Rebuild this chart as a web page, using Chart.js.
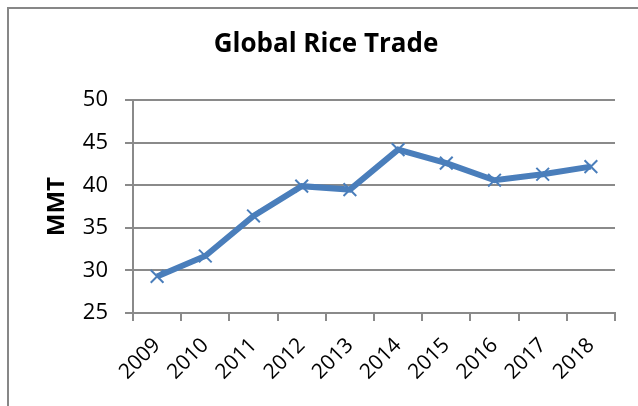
<!DOCTYPE html>
<html>
<head>
<meta charset="utf-8">
<script src="https://cdn.jsdelivr.net/npm/chart.js@4"></script>
<style>
    html, body { margin: 0; padding: 0; background: #fff; }
    #wrap { position: relative; width: 638px; height: 406px; overflow: hidden; }
    #frame {
        position: absolute; left: 7px; top: 7px; width: 700px; height: 500px;
        border-left: 2px solid #878787; border-top: 2px solid #878787;
    }
    canvas { position: absolute; left: 0; top: 0; }
</style>
</head>
<body>
<div id="wrap">
    <div id="frame"></div>
    <canvas id="grafico" width="638" height="406"></canvas>
</div>
<script>
// dados do grafico
const anos = ['2009', '2010', '2011', '2012', '2013', '2014', '2015', '2016', '2017', '2018'];
const comercio = [29.3, 31.7, 36.4, 39.9, 39.5, 44.2, 42.6, 40.6, 41.3, 42.2];
const ticksY = [25, 30, 35, 40, 45, 50];

const fonte = "'Open Sans', 'DejaVu Sans', sans-serif";
const cinza = '#8a8a8a';
const azul = '#4a7ebb';

const ctx = document.getElementById('grafico').getContext('2d');

new Chart(ctx, {
    type: 'line',
    data: {
        labels: anos,
        datasets: [{
            label: 'MMT',
            data: comercio,
            borderColor: azul,
            backgroundColor: azul,
            borderWidth: 6,
            tension: 0,
            pointStyle: 'crossRot',
            pointRadius: 9,
            pointBorderWidth: 2,
            pointBorderColor: azul
        }]
    },
    options: {
        responsive: false,
        animation: false,
        layout: { padding: { left: 37, right: 23, top: 0, bottom: 0 } },
        plugins: {
            legend: { display: false },
            tooltip: { enabled: false },
            title: {
                display: true,
                text: 'Global Rice Trade',
                color: '#000',
                font: { family: fonte, size: 26, weight: 'bold' },
                padding: { top: 29, bottom: 40 }
            }
        },
        scales: {
            x: {
                offset: true,
                grid: {
                    offset: true,
                    drawOnChartArea: false,
                    drawTicks: true,
                    tickLength: 8,
                    color: cinza,
                    lineWidth: 2
                },
                border: { display: true, color: cinza, width: 2 },
                ticks: {
                    color: '#000',
                    font: { family: fonte, size: 21 },
                    maxRotation: 45,
                    minRotation: 45,
                    padding: 12
                },
                afterFit(scale) { scale.height = 93; }
            },
            y: {
                min: 25,
                max: 50,
                afterBuildTicks(scale) { scale.ticks = ticksY.map(v => ({ value: v })); },
                grid: {
                    color: cinza,
                    lineWidth: 2,
                    drawTicks: true,
                    tickLength: 8
                },
                border: { display: true, color: cinza, width: 2 },
                ticks: {
                    color: '#000',
                    font: { family: fonte, size: 22 },
                    padding: 17
                },
                title: {
                    display: true,
                    text: 'MMT',
                    color: '#000',
                    font: { family: fonte, size: 24, weight: 'bold' },
                    padding: { top: 6, bottom: 0 }
                },
                afterFit(scale) { scale.width = 96; }
            }
        }
    }
});
</script>
</body>
</html>
